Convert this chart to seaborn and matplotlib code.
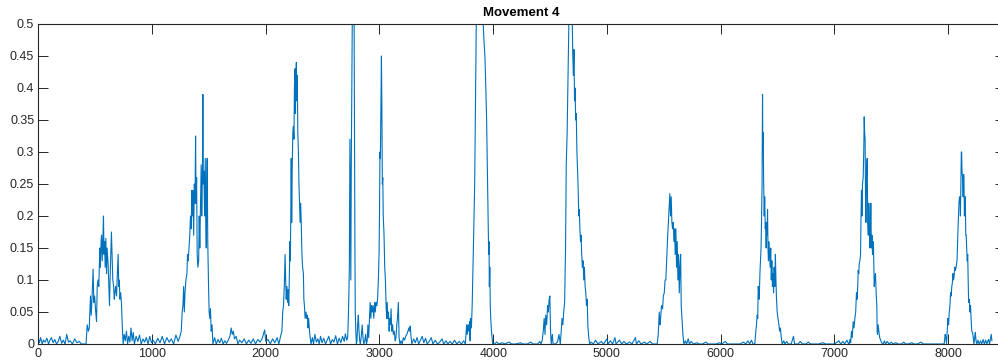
import pandas as pd
import matplotlib
matplotlib.use("Agg")
import matplotlib.pyplot as plt
import seaborn as sns

# (sample, amplitude) pairs, one list per movement repetition
rep1 = [(0, .008), (10, .002), (20, .01), (35, .0), (45, .006), (60, .003), (75, .009), (90, .0),
        (100, .005), (115, .01), (130, .002), (145, .007), (160, .0), (175, .004), (190, .012),
        (205, .001), (220, .006), (235, .0), (250, .015), (265, .003), (280, .005), (300, .0),
        (320, .008), (340, .002), (360, .004), (380, .0), (400, .0), (420, .0),
        (430, .03), (440, .02), (448, .025), (459, .075), (465, .045), (472, .07), (482, .117),
        (488, .065), (495, .075), (505, .05), (512, .035), (518, .09), (525, .1), (532, .09),
        (541, .15), (546, .12), (552, .16), (556, .17), (562, .13), (568, .165), (573, .2),
        (578, .14), (583, .16), (588, .12), (594, .165), (600, .11), (605, .15), (614, .125),
        (620, .09), (626, .06), (631, .1), (637, .14), (643, .175), (650, .13), (655, .1),
        (662, .09), (668, .07), (673, .08), (680, .09), (688, .075), (695, .11), (702, .14),
        (707, .09), (712, .1), (718, .07), (724, .08), (731, .065), (738, .03), (746, .0)]

rep2 = [(755, .015), (765, .005), (775, .02), (785, .0), (795, .012), (805, .003), (815, .025),
        (825, .005), (835, .018), (845, .0), (860, .012), (875, .004), (890, .014), (905, .0),
        (920, .008), (935, .003), (950, .01), (965, .0), (980, .012), (995, .002), (1010, .006),
        (1030, .0), (1050, .009), (1070, .002), (1090, .012), (1110, .0), (1130, .01), (1150, .003),
        (1170, .008), (1190, .0), (1210, .014), (1230, .004), (1245, .012),
        (1257, .02), (1265, .05), (1272, .06), (1278, .09), (1284, .05), (1290, .08), (1298, .1),
        (1307, .11), (1312, .14), (1318, .13), (1325, .15), (1332, .17), (1338, .2), (1345, .18),
        (1350, .24), (1354, .2), (1360, .24), (1366, .17), (1372, .25), (1378, .22), (1383, .325),
        (1387, .22), (1392, .26), (1397, .14), (1403, .12), (1410, .13), (1415, .2), (1420, .15),
        (1426, .22), (1432, .28), (1437, .2), (1443, .26), (1447, .39), (1451, .25), (1456, .27),
        (1462, .2), (1468, .29), (1472, .2), (1477, .15), (1482, .26), (1485, .29), (1490, .16),
        (1496, .1), (1502, .05), (1508, .04), (1514, .055), (1520, .02), (1528, .03), (1535, .0)]

rep3 = [(1550, .01), (1565, .0), (1580, .007), (1595, .002), (1610, .009), (1625, .0), (1640, .005),
        (1655, .001), (1670, .006), (1685, .012), (1696, .025), (1705, .015), (1715, .02),
        (1725, .008), (1740, .012), (1755, .0), (1770, .006), (1790, .002), (1810, .008), (1830, .0),
        (1850, .006), (1870, .001), (1890, .008), (1910, .0), (1930, .007), (1950, .003),
        (1970, .009), (1990, .022), (2000, .004), (2020, .007), (2040, .0), (2060, .008),
        (2080, .002), (2100, .01), (2115, .0), (2125, .008), (2134, .015),
        (2142, .02), (2149, .05), (2156, .06), (2163, .09), (2170, .14), (2175, .1), (2180, .07),
        (2186, .09), (2192, .065), (2198, .085), (2202, .06), (2208, .11), (2212, .16), (2216, .13),
        (2220, .2), (2224, .29), (2228, .19), (2233, .28), (2238, .33), (2243, .34), (2248, .32),
        (2252, .4), (2257, .43), (2261, .36), (2265, .42), (2269, .44), (2273, .38), (2277, .42),
        (2282, .33), (2287, .3), (2292, .25), (2297, .22), (2302, .19), (2307, .22), (2312, .19),
        (2318, .14), (2324, .12), (2331, .11), (2335, .07), (2340, .06), (2346, .04), (2354, .05),
        (2360, .04), (2366, .045), (2372, .025), (2377, .04), (2385, .02), (2392, .008), (2398, .0)]

rep4 = [(2410, .01), (2420, .0), (2432, .015), (2445, .003), (2458, .008), (2470, .0), (2482, .012),
        (2495, .002), (2510, .009), (2525, .0), (2540, .006), (2555, .012), (2570, .0), (2585, .007),
        (2600, .003), (2615, .013), (2630, .0), (2645, .009), (2660, .002), (2675, .012),
        (2690, .004), (2700, .016), (2712, .006),
        (2720, .01), (2726, .04), (2730, .07), (2735, .12), (2740, .32), (2744, .2), (2748, .1),
        (2752, .28), (2758, .45), (2763, .56), (2768, .6), (2773, .55), (2777, .5), (2781, .3),
        (2784, .15), (2787, .05), (2792, .02), (2797, .0), (2802, .005), (2808, .03), (2814, .045),
        (2820, .02), (2826, .005), (2832, .0), (2840, .012), (2848, .03), (2855, .01), (2862, .0),
        (2870, .005), (2878, .015), (2885, .0), (2892, .005), (2898, .03), (2905, .01), (2912, .04),
        (2918, .065), (2924, .04), (2930, .06), (2936, .05), (2943, .06), (2950, .04), (2957, .065),
        (2963, .05), (2970, .065), (2977, .06), (2983, .07), (2990, .1), (2996, .14), (3000, .2),
        (3004, .3), (3008, .29), (3013, .38), (3017, .45), (3021, .37), (3025, .25), (3029, .26),
        (3033, .2), (3040, .17), (3046, .12), (3052, .1), (3058, .06), (3063, .04), (3068, .065),
        (3073, .04), (3079, .05), (3085, .02), (3090, .04), (3096, .03), (3102, .055), (3108, .02),
        (3115, .03), (3122, .015), (3130, .02), (3138, .005), (3145, .01), (3152, .03), (3158, .04),
        (3166, .065), (3172, .01), (3180, .0), (3190, .005), (3200, .0), (3210, .01), (3220, .006),
        (3230, .012), (3240, .015), (3250, .02), (3258, .025), (3264, .02), (3270, .028),
        (3278, .01), (3285, .0)]

rep5 = [(3300, .008), (3315, .002), (3330, .01), (3345, .0), (3360, .006), (3375, .012),
        (3390, .002), (3405, .009), (3420, .0), (3440, .005), (3455, .01), (3470, .0), (3490, .006),
        (3510, .0), (3530, .003), (3550, .008), (3565, .0), (3585, .005), (3600, .0), (3620, .004),
        (3640, .0), (3660, .006), (3680, .0), (3700, .004), (3720, .0), (3740, .005), (3755, .0),
        (3762, .02), (3766, .03), (3772, .015), (3778, .03), (3785, .02), (3792, .035), (3797, .005),
        (3800, .04), (3808, .025), (3815, .06), (3820, .1), (3828, .17), (3837, .25), (3844, .38),
        (3851, .5), (3860, .58), (3870, .62), (3885, .6), (3895, .58), (3905, .55), (3912, .5),
        (3920, .47), (3927, .45), (3935, .4), (3942, .35), (3951, .25), (3956, .2), (3960, .14),
        (3963, .16), (3966, .09), (3970, .12), (3974, .06), (3978, .04), (3985, .02), (3995, .0)]

rep6 = [(4010, .0), (4030, .003), (4050, .0), (4080, .002), (4100, .0), (4140, .003), (4160, .0),
        (4200, .0), (4240, .002), (4260, .0), (4300, .0), (4330, .003), (4350, .0), (4390, .0),
        (4410, .004), (4420, .0),
        (4430, .005), (4440, .02), (4448, .04), (4455, .015), (4462, .045), (4470, .03), (4478, .06),
        (4485, .05), (4492, .07), (4498, .075), (4504, .02), (4510, .0), (4520, .015), (4526, .0),
        (4545, .0), (4565, .003), (4578, .015), (4590, .0), (4598, .02), (4605, .04), (4612, .03),
        (4620, .05), (4628, .065), (4636, .15), (4642, .28), (4650, .33), (4658, .42), (4665, .5),
        (4672, .55), (4680, .6), (4688, .55), (4695, .5), (4700, .45), (4705, .42), (4710, .46),
        (4715, .38), (4720, .4), (4725, .35), (4730, .36), (4736, .3), (4742, .27), (4747, .24),
        (4752, .2), (4757, .21), (4762, .18), (4768, .16), (4773, .17), (4778, .14), (4784, .12),
        (4790, .13), (4796, .1), (4802, .12), (4808, .09), (4814, .08), (4820, .06), (4826, .07),
        (4832, .03), (4840, .01), (4848, .0)]

rep7 = [(4860, .003), (4880, .0), (4900, .006), (4920, .0), (4950, .004), (4970, .0), (5000, .008),
        (5010, .0), (5030, .005), (5050, .0), (5070, .01), (5080, .0), (5110, .006), (5130, .0),
        (5150, .004), (5170, .0), (5200, .003), (5220, .0), (5250, .01), (5260, .0), (5280, .005),
        (5300, .0), (5330, .003), (5350, .0), (5380, .004), (5400, .0), (5420, .0), (5442, .0),
        (5451, .015), (5460, .05), (5466, .03), (5472, .04), (5480, .06), (5489, .055), (5496, .075),
        (5504, .08), (5511, .1), (5518, .1), (5525, .13), (5533, .165), (5540, .19), (5548, .22),
        (5553, .235), (5559, .2), (5565, .23), (5571, .19), (5577, .18), (5583, .19), (5589, .16),
        (5595, .18), (5600, .14), (5606, .18), (5612, .12), (5618, .16), (5624, .1), (5630, .14),
        (5636, .08), (5642, .12), (5648, .14), (5653, .06), (5660, .04), (5668, .015), (5676, .0)]

rep8 = [(5690, .005), (5700, .0), (5715, .008), (5725, .0), (5740, .004), (5760, .0), (5790, .002),
        (5810, .0), (5840, .0), (5870, .003), (5890, .0), (5930, .0), (5960, .0), (5990, .002),
        (6010, .0), (6040, .004), (6060, .0), (6100, .0), (6140, .0), (6170, .0), (6200, .003),
        (6220, .0), (6240, .005), (6255, .0), (6270, .006), (6285, .0), (6300, .0),
        (6309, .02), (6315, .03), (6321, .045), (6326, .04), (6330, .09), (6335, .08), (6339, .07),
        (6345, .11), (6350, .13), (6355, .15), (6359, .19), (6364, .25), (6368, .39), (6371, .3),
        (6374, .33), (6378, .25), (6383, .2), (6387, .23), (6392, .18), (6396, .19), (6400, .15),
        (6404, .19), (6408, .17), (6412, .21), (6416, .15), (6420, .13), (6425, .16), (6430, .14),
        (6435, .12), (6440, .15), (6445, .1), (6450, .13), (6455, .09), (6460, .11), (6465, .08),
        (6470, .12), (6476, .09), (6481, .14), (6486, .1), (6491, .07), (6497, .05), (6504, .04),
        (6512, .03), (6518, .02), (6525, .025), (6533, .01), (6541, .0)]

rep9 = [(6555, .005), (6565, .0), (6580, .004), (6595, .0), (6620, .0), (6640, .012), (6650, .0),
        (6680, .0), (6700, .004), (6720, .0), (6750, .0), (6770, .003), (6790, .0), (6830, .0),
        (6860, .0), (6900, .002), (6920, .0), (6960, .0), (7000, .0), (7040, .005), (7055, .0),
        (7075, .004), (7090, .0), (7110, .006), (7125, .0), (7130, .0),
        (7136, .007), (7143, .002), (7150, .02), (7157, .01), (7165, .035), (7172, .025), (7180, .04),
        (7187, .05), (7194, .08), (7200, .07), (7205, .09), (7209, .115), (7214, .11), (7218, .125),
        (7224, .13), (7230, .14), (7234, .2), (7238, .24), (7242, .2), (7247, .25), (7253, .26),
        (7258, .3), (7262, .355), (7266, .33), (7270, .32), (7274, .22), (7277, .19), (7282, .26),
        (7288, .29), (7293, .19), (7298, .17), (7302, .22), (7306, .2), (7311, .15), (7316, .17),
        (7320, .22), (7325, .15), (7330, .17), (7335, .14), (7340, .16), (7344, .15), (7350, .09),
        (7355, .1), (7361, .11), (7367, .08), (7373, .06), (7376, .02), (7379, .015), (7385, .03),
        (7391, .02), (7398, .01), (7405, .007), (7415, .002), (7429, .0)]

rep10 = [(7440, .005), (7450, .0), (7465, .004), (7480, .0), (7500, .003), (7515, .0), (7540, .002),
         (7560, .0), (7590, .0), (7610, .003), (7625, .0), (7650, .0), (7680, .002), (7700, .0),
         (7730, .0), (7760, .003), (7780, .0), (7820, .0), (7850, .0), (7880, .0), (7910, .0),
         (7940, .0), (7965, .0),
         (7974, .015), (7980, .01), (7986, .0), (7992, .02), (7998, .04), (8004, .03), (8010, .05),
         (8016, .06), (8021, .08), (8027, .075), (8032, .09), (8037, .095), (8042, .11), (8047, .1),
         (8052, .105), (8058, .12), (8064, .115), (8070, .12), (8078, .13), (8083, .16), (8087, .18),
         (8091, .2), (8095, .22), (8100, .23), (8104, .23), (8108, .2), (8112, .25), (8116, .3),
         (8119, .3), (8122, .27), (8127, .26), (8132, .23), (8136, .265), (8139, .26), (8143, .2),
         (8147, .21), (8151, .23), (8155, .17), (8159, .17), (8163, .15), (8168, .13), (8172, .14),
         (8176, .1), (8180, .065), (8186, .07), (8192, .05), (8197, .06), (8203, .035), (8208, .02),
         (8215, .018), (8221, .01), (8227, .0), (8233, .01), (8239, .018), (8245, .005), (8252, .0),
         (8262, .006), (8272, .0), (8285, .005), (8295, .0), (8308, .007), (8318, .0), (8330, .006),
         (8340, .0), (8350, .005), (8356, .007), (8364, .0), (8372, .008), (8379, .015), (8385, .005)]

x_ticks = [0, 1000, 2000, 3000, 4000, 5000, 6000, 7000, 8000]
y_ticks = [0, 0.05, 0.1, 0.15, 0.2, 0.25, 0.3, 0.35, 0.4, 0.45, 0.5]

reps = [rep1, rep2, rep3, rep4, rep5, rep6, rep7, rep8, rep9, rep10]
df = pd.DataFrame([p for r in reps for p in r], columns=["sample", "value"])

sns.set_style("ticks")
plt.rcParams['font.family'] = ['Liberation Sans', 'DejaVu Sans']

fig = plt.figure(figsize=(9.98, 3.64), dpi=100)
ax = fig.add_axes([38.3 / 998, 20 / 364, (1005 - 38.3) / 998, 320 / 364])

sns.lineplot(data=df, x="sample", y="value", ax=ax, sort=False, estimator=None,
             color="#0072BD", linewidth=0.8)

ax.set_xlim(0, 8500)
ax.set_ylim(0, 0.5)
ax.set_xticks(x_ticks)
ax.set_yticks(y_ticks)
ax.set_yticklabels(["%g" % v for v in y_ticks])
ax.set_xlabel("")
ax.set_ylabel("")
ax.set_title("Movement 4", fontsize=9.5, fontweight="bold", color="black", pad=6)

for s in ax.spines.values():
    s.set_visible(True)
    s.set_color("#262626")
    s.set_linewidth(0.8)
ax.tick_params(direction="in", length=7, width=0.7, color="#262626", labelcolor="#262626",
               labelsize=9, top=True, right=True, pad=3)

fig.savefig("out.png", dpi=100)
plt.close()
